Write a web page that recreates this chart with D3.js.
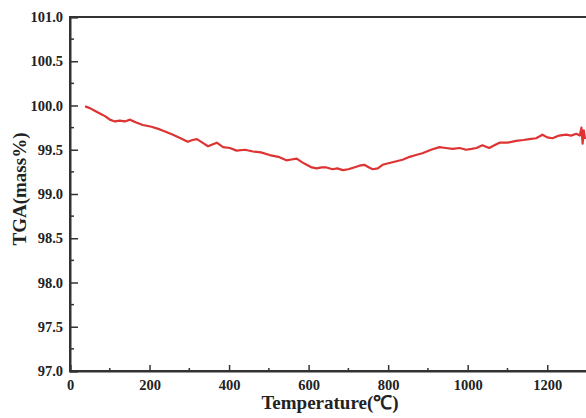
<!DOCTYPE html>
<html lang="en">
<head>
<meta charset="utf-8">
<script src="https://d3js.org/d3.v7.min.js"></script>
<style>
  body { margin: 0; background: #fff; }
  text { font-family: "Liberation Serif", "Times New Roman", serif; font-weight: bold; fill: #222; }
</style>
</head>
<body>
<script>
// temperature (°C) and TGA mass (%)
var temps = [38, 50, 62, 75, 88, 100, 113, 125, 138, 151, 165, 183, 205, 226, 242, 259, 278, 296, 308, 319, 333, 347, 358, 369, 385, 402,
             419, 440, 460, 480, 502, 524, 544, 557, 570, 583, 595, 608, 620, 633, 645, 660, 672, 686, 700, 714, 728, 740, 752, 761, 774,
             786, 803, 821, 838, 854, 870, 886, 908, 929, 945, 962, 980, 996, 1010, 1022, 1037, 1054, 1067, 1080, 1100, 1122, 1140, 1155,
             1172, 1188, 1200, 1213, 1230, 1248, 1260, 1273, 1282, 1286, 1289, 1292, 1295];
var mass  = [99.99, 99.97, 99.94, 99.91, 99.88, 99.84, 99.82, 99.83, 99.82, 99.84, 99.81, 99.78, 99.76, 99.73, 99.70, 99.67, 99.63, 99.59, 99.61, 99.62, 99.58, 99.54, 99.56, 99.58, 99.53, 99.52,
             99.49, 99.50, 99.48, 99.47, 99.44, 99.42, 99.38, 99.39, 99.40, 99.36, 99.33, 99.30, 99.29, 99.30, 99.30, 99.28, 99.29, 99.27, 99.28, 99.30, 99.32, 99.33, 99.30, 99.28, 99.29,
             99.33, 99.35, 99.37, 99.39, 99.42, 99.44, 99.46, 99.50, 99.53, 99.52, 99.51, 99.52, 99.50, 99.51, 99.52, 99.55, 99.52, 99.55, 99.58, 99.58, 99.60, 99.61, 99.62,
             99.63, 99.67, 99.64, 99.63, 99.66, 99.67, 99.66, 99.68, 99.66, 99.75, 99.57, 99.72, 99.62];

var xTicks = [0, 200, 400, 600, 800, 1000, 1200];
var xMinor = [100, 300, 500, 700, 900, 1100, 1300];
var yTicks = [97.0, 97.5, 98.0, 98.5, 99.0, 99.5, 100.0, 100.5, 101.0];
var yMinor = [97.25, 97.75, 98.25, 98.75, 99.25, 99.75, 100.25, 100.75];

var W = 586, H = 418;
var plotL = 70, plotR = 587, plotT = 17, plotB = 371;

var svg = d3.select("body").append("svg")
    .attr("width", W)
    .attr("height", H);

var x = d3.scaleLinear().domain([0, 1300]).range([plotL, plotR]);
var y = d3.scaleLinear().domain([97, 101]).range([plotB, plotT]);

// frame
svg.append("rect")
    .attr("x", plotL).attr("y", plotT)
    .attr("width", plotR - plotL).attr("height", plotB - plotT)
    .attr("fill", "none").attr("stroke", "#333").attr("stroke-width", 2);

// x axis, ticks pointing inward
var xAxis = svg.append("g").attr("transform", "translate(0," + plotB + ")");
xAxis.call(d3.axisBottom(x).tickValues(xTicks).tickSize(-6).tickPadding(9).tickFormat(d3.format("d")));
xAxis.selectAll(".tick line").attr("stroke", "#333").attr("stroke-width", 1.5);
xAxis.select(".domain").attr("stroke", "#333").attr("stroke-width", 2);
xAxis.selectAll("text").style("font-size", "14.5px");
xAxis.selectAll(".minor").data(xMinor).enter().append("line")
    .attr("x1", d => x(d)).attr("x2", d => x(d))
    .attr("y1", 0).attr("y2", -3)
    .attr("stroke", "#333").attr("stroke-width", 1.5);

// y axis
var yAxis = svg.append("g").attr("transform", "translate(" + plotL + ",0)");
yAxis.call(d3.axisLeft(y).tickValues(yTicks).tickSize(-8).tickPadding(7).tickFormat(d3.format(".1f")));
yAxis.selectAll(".tick line").attr("stroke", "#333").attr("stroke-width", 1.5);
yAxis.select(".domain").attr("stroke", "#333").attr("stroke-width", 2);
yAxis.selectAll("text").style("font-size", "14.5px");
yAxis.selectAll(".minor").data(yMinor).enter().append("line")
    .attr("x1", 0).attr("x2", 4)
    .attr("y1", d => y(d)).attr("y2", d => y(d))
    .attr("stroke", "#333").attr("stroke-width", 1.5);

// curve
var pts = temps.map((t, i) => [t, mass[i]]);
svg.append("path")
    .datum(pts)
    .attr("fill", "none")
    .attr("stroke", "#dd3333")
    .attr("stroke-width", 2.2)
    .attr("stroke-linejoin", "round")
    .attr("d", d3.line().x(d => x(d[0])).y(d => y(d[1])));

// axis titles
svg.append("text")
    .attr("x", 330).attr("y", 409)
    .attr("text-anchor", "middle")
    .style("font-size", "19px")
    .text("Temperature(\u2103)");

svg.append("text")
    .attr("transform", "translate(26,189) rotate(-90)")
    .attr("text-anchor", "middle")
    .style("font-size", "19px")
    .text("TGA(mass%)");
</script>
</body>
</html>
